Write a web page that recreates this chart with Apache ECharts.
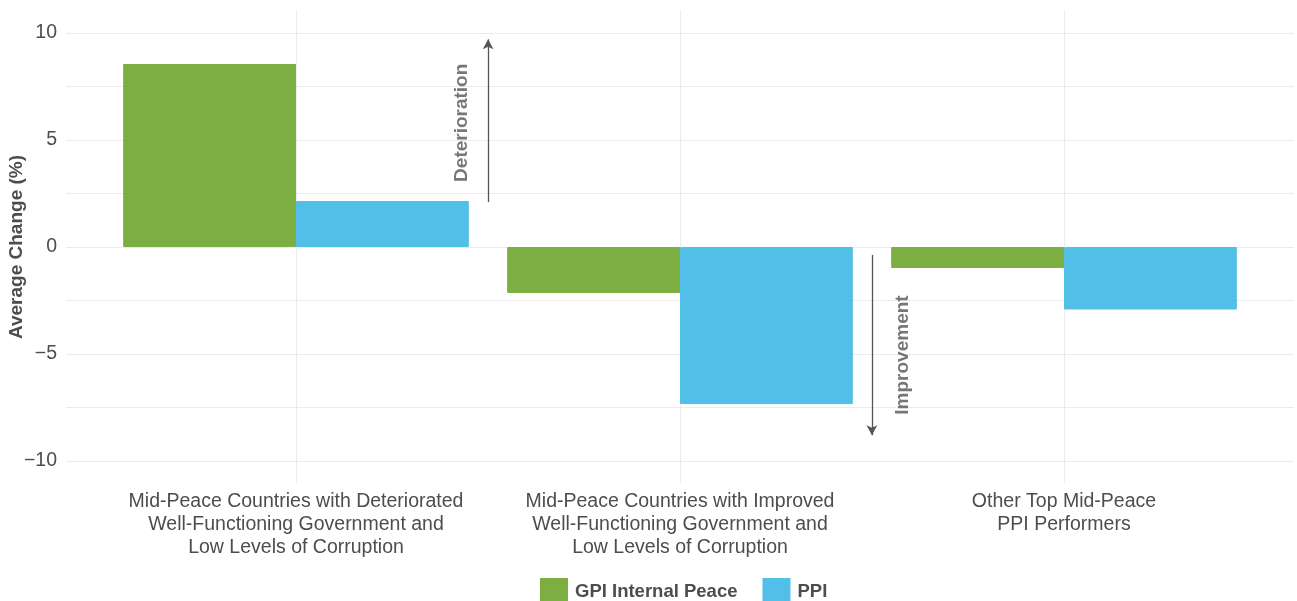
<!DOCTYPE html>
<html>
<head>
<meta charset="utf-8">
<script src="https://cdn.jsdelivr.net/npm/echarts@6/dist/echarts.min.js"></script>
<style>html,body{margin:0;padding:0;background:#fff}#c{width:1297px;height:601px}</style>
</head>
<body>
<div id="c"></div>
<script>
const categories = [
  'Mid-Peace Countries with Deteriorated\nWell-Functioning Government and\nLow Levels of Corruption',
  'Mid-Peace Countries with Improved\nWell-Functioning Government and\nLow Levels of Corruption',
  'Other Top Mid-Peace\nPPI Performers'
];
const gpiValues = [8.55, -2.15, -0.98];
const ppiValues = [2.15, -7.34, -2.92];
const seriesNames = ['GPI Internal Peace', 'PPI'];
const yAxisName = 'Average Change (%)';
// annotations: label, arrow x (category units), arrow y start/end, label position
const annotationLabels = ['Deterioration', 'Improvement'];
const arrowX = [0.5, 1.5];
const arrowFrom = [2.1, -0.37];
const arrowTo = [9.7, -8.8];
const labelX = [0.432, 1.58];
const labelY = [5.8, -5.05];

const GREEN = '#7cae41', BLUE = '#52bfe8', GRID = '#ebebeb', TXT = '#4d4d4d';
const FONT = '"Liberation Sans", Arial, Helvetica, sans-serif';

const chart = echarts.init(document.getElementById('c'));
chart.setOption({
  animation: false,
  backgroundColor: '#fff',
  textStyle: { fontFamily: FONT },
  grid: [
    { left: 66, right: 3, top: 10, bottom: 118, outerBoundsMode: 'none', containLabel: false },   // annotations
    { left: 66, right: 3, top: 33, bottom: 140, outerBoundsMode: 'none', containLabel: false },   // y axis + horizontal grid
    { left: 104, right: 41, top: 33, bottom: 140, outerBoundsMode: 'none', containLabel: false }, // bars
    { left: 296, right: 233, top: 10, bottom: 118, outerBoundsMode: 'none', containLabel: false } // vertical grid at category centres
  ],
  xAxis: [
    { gridIndex: 0, type: 'value', min: -0.6, max: 2.6, show: false },
    { gridIndex: 1, type: 'value', min: 0, max: 1, show: false },
    { gridIndex: 2, type: 'category', data: categories,
      axisLine: { show: false }, axisTick: { show: false },
      axisLabel: { color: TXT, fontSize: 19.5, lineHeight: 23, margin: 29, fontFamily: FONT, interval: 0 } },
    { gridIndex: 3, type: 'value', min: 0, max: categories.length - 1, interval: 1,
      axisLine: { show: false }, axisTick: { show: false }, axisLabel: { show: false },
      splitLine: { show: true, lineStyle: { color: GRID, width: 1 } } }
  ],
  yAxis: [
    { gridIndex: 0, type: 'value', min: -11.03, max: 11.07, show: false },
    { gridIndex: 1, type: 'value', min: -10, max: 10, interval: 2.5,
      name: yAxisName, nameLocation: 'middle', nameGap: 40, nameMoveOverlap: false,
      nameTextStyle: { color: TXT, fontSize: 19, fontWeight: 'bold', fontFamily: FONT },
      axisLine: { show: false }, axisTick: { show: false },
      axisLabel: { color: TXT, fontSize: 19.5, margin: 9, fontFamily: FONT,
        formatter: v => (Math.abs(v % 5) < 1e-9 ? String(v).replace('-', '\u2212') : '') },
      splitLine: { show: true, lineStyle: { color: GRID, width: 1 } } },
    { gridIndex: 2, type: 'value', min: -10, max: 10, show: false },
    { gridIndex: 3, type: 'value', min: 0, max: 1, show: false }
  ],
  legend: {
    top: 578, left: 540, padding: 0, itemWidth: 26, itemHeight: 26, itemGap: 25,
    icon: 'rect',
    textStyle: { color: TXT, fontSize: 18.5, fontWeight: 'bold', fontFamily: FONT, padding: [0, 0, 0, 3] },
    data: seriesNames
  },
  series: [
    {
      type: 'line', xAxisIndex: 0, yAxisIndex: 0, data: [], z: 5, silent: true,
      markLine: {
        silent: true, symbol: ['none', 'arrow'], symbolSize: [8, 10], label: { show: false },
        lineStyle: { color: '#555', width: 1.3, type: 'solid' },
        data: arrowX.map((x, i) => [{ coord: [x, arrowFrom[i]] }, { coord: [x, arrowTo[i]] }])
      }
    },
    {
      type: 'scatter', xAxisIndex: 0, yAxisIndex: 0, symbolSize: 0, silent: true, z: 5,
      data: annotationLabels.map((t, i) => ({ name: t, value: [labelX[i], labelY[i]] })),
      label: { show: true, position: 'inside', rotate: 90, formatter: p => p.name,
        color: '#555', fontSize: 19, fontWeight: 'bold', fontFamily: FONT }
    },
    {
      name: seriesNames[0], type: 'bar', xAxisIndex: 2, yAxisIndex: 2, data: gpiValues,
      itemStyle: { color: GREEN, borderColor: GREEN, borderWidth: 1 }, barGap: '0%', barCategoryGap: '10%', z: 3
    },
    {
      name: seriesNames[1], type: 'bar', xAxisIndex: 2, yAxisIndex: 2, data: ppiValues,
      itemStyle: { color: BLUE, borderColor: BLUE, borderWidth: 1 }, barGap: '0%', barCategoryGap: '10%', z: 3
    }
  ]
});
</script>
</body>
</html>
